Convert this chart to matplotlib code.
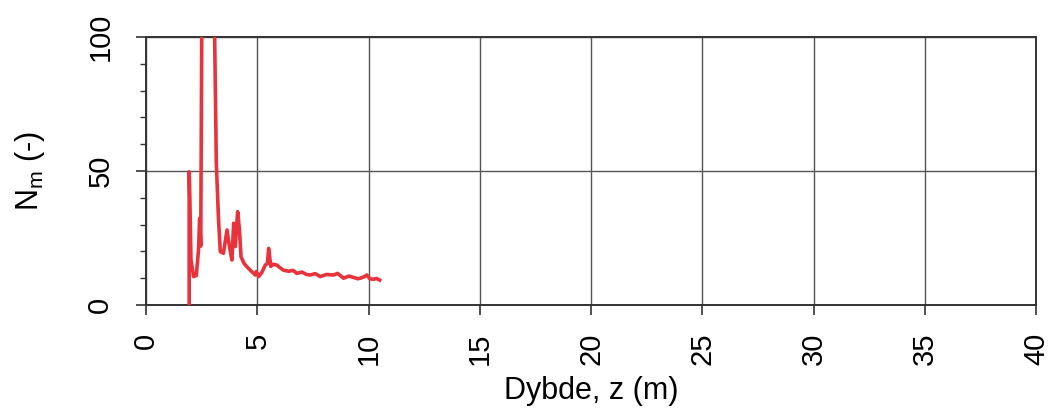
import numpy as np
import matplotlib.pyplot as plt
from matplotlib.ticker import MultipleLocator

plt.rcParams['font.family'] = ['Liberation Sans', 'DejaVu Sans']

# dybde (m) og N_m (-)
dybde = [1.93, 1.93, 1.96, 2.01, 2.13, 2.25, 2.35, 2.40, 2.45, 2.50, 2.58, 2.80, 3.06,
         3.15, 3.25, 3.33, 3.47, 3.63, 3.74, 3.85, 3.93, 4.00, 4.11, 4.19, 4.26,
         4.40, 4.52, 4.70, 4.90, 4.95, 5.05, 5.20, 5.35, 5.45, 5.50, 5.60, 5.70, 5.87,
         6.00, 6.17, 6.40, 6.60, 6.77, 7.00, 7.20, 7.37, 7.60, 7.82, 8.10, 8.42,
         8.60, 8.87, 9.10, 9.32, 9.50, 9.62, 9.80, 9.92, 10.05, 10.22, 10.35, 10.49]
nm = [0.0, 49.7, 40.0, 16.8, 10.6, 11.0, 20.5, 32.3, 22.0, 110.0, 120.0, 130.0, 110.0,
      52.9, 31.7, 19.9, 19.3, 28.0, 21.8, 16.8, 30.5, 21.8, 34.8, 28.0, 18.0,
      15.5, 14.3, 12.8, 11.2, 12.5, 10.6, 12.2, 14.9, 15.5, 21.1, 14.4, 15.2, 14.9,
      14.0, 13.0, 12.6, 12.9, 11.8, 12.3, 11.4, 11.2, 11.7, 10.6, 11.4, 11.2,
      11.8, 10.0, 10.8, 10.3, 9.8, 10.0, 10.6, 11.2, 9.8, 9.6, 9.9, 9.3]

fig = plt.figure(figsize=(10.52, 4.15), dpi=100)
ax = fig.add_axes([0.139, 0.265, 0.846, 0.646])

ax.plot(dybde, nm, color='#e8323c', linewidth=2.6, zorder=3)

ax.set_xlim(0, 40)
ax.set_ylim(0, 100)
ax.xaxis.set_major_locator(MultipleLocator(5))
ax.yaxis.set_major_locator(MultipleLocator(50))
ax.yaxis.set_minor_locator(MultipleLocator(10))
ax.grid(True, which='major', color='#555555', linewidth=1.0)

for s in ax.spines.values():
    s.set_linewidth(1.4)
    s.set_color('#333333')

ax.tick_params(axis='both', which='major', direction='out', length=7, width=1.2,
               labelsize=21, color='#333333')
ax.tick_params(axis='y', which='minor', direction='out', length=4, width=1.0, color='#333333')
ax.tick_params(axis='x', pad=13)
ax.tick_params(axis='y', pad=16)
plt.setp(ax.get_xticklabels(), rotation=90)
plt.setp(ax.get_yticklabels(), rotation=90, va='center')

ax.set_xlabel('Dybde, z (m)', fontsize=22, labelpad=8)
ax.set_ylabel('N$_\\mathregular{m}$ (-)', fontsize=22, labelpad=28)

fig.savefig('out.png', dpi=100)
